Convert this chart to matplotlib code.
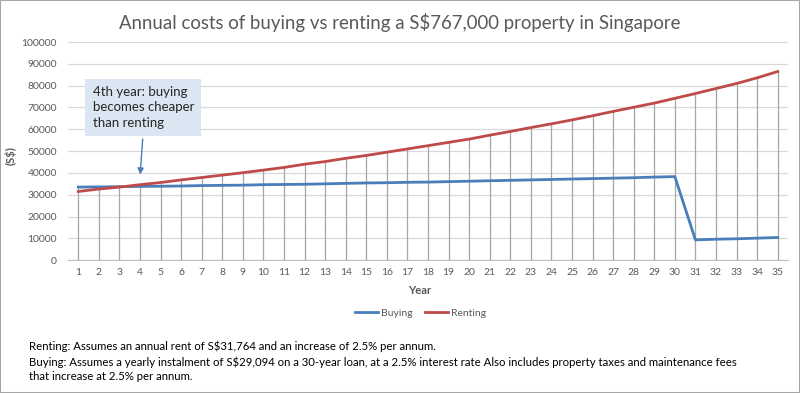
import numpy as np
import matplotlib.pyplot as plt
from matplotlib.patches import Rectangle

plt.rcParams['font.family'] = ['Lato', 'DejaVu Sans']

# values (S$ per year)
years = list(range(1, 36))
buying = [33500, 33600, 33700, 33800, 33900, 34000, 34200, 34300, 34400, 34600,
          34700, 34800, 35000, 35200, 35400, 35500, 35700, 35800, 36000, 36200,
          36400, 36600, 36800, 37000, 37200, 37400, 37600, 37800, 38100, 38300,
          9300, 9600, 9800, 10100, 10400]
renting = [31500, 32600, 33500, 34600, 35600, 36800, 37900, 39000, 40100, 41300,
           42500, 44000, 45200, 46700, 48000, 49500, 51000, 52500, 54000, 55500,
           57300, 59000, 60800, 62500, 64300, 66200, 68200, 70100, 72000, 74200,
           76400, 78700, 81000, 83600, 86500]

title = "Annual costs of buying vs renting a S$767,000 property in Singapore"
note = ("Renting: Assumes an annual rent of S$31,764 and an increase of 2.5% per annum.\n"
        "Buying: Assumes a yearly instalment of S$29,094 on a 30-year loan, at a 2.5% interest rate Also includes property taxes and maintenance fees\n"
        "that increase at 2.5% per annum.")

fig = plt.figure(figsize=(8, 3.93), dpi=100)
ax = fig.add_axes([0.085, 0.338, 0.90, 0.555])

top = np.maximum(buying, renting)
ax.vlines(years, 0, top, color='#a6a6a6', lw=0.9, zorder=1)
ax.plot(years, buying, color='#4a7ebb', lw=2.0, label='Buying', zorder=3)
ax.plot(years, renting, color='#be4b48', lw=2.0, label='Renting', zorder=3)

ax.set_xlim(0.5, 35.5)
ax.set_ylim(0, 100000)
ax.set_yticks(range(0, 100001, 10000))
ax.set_xticks(years)
ax.grid(axis='y', color='#d9d9d9', lw=0.9)
ax.set_axisbelow(True)
for s in ['top', 'right', 'left']:
    ax.spines[s].set_visible(False)
ax.spines['bottom'].set_color('#bfbfbf')
ax.tick_params(axis='both', length=0, labelsize=7.5, colors='#595959')
ax.tick_params(axis='x', pad=6)
ax.tick_params(axis='y', pad=8)

ax.set_ylabel('(S$)', fontsize=8, color='#595959', fontweight='bold')
ax.yaxis.set_label_coords(-0.071, 0.48)
fig.text(0.525, 0.26, 'Year', ha='center', va='center', fontsize=8,
         color='#595959', fontweight='bold')
fig.text(0.5, 0.944, title, ha='center', va='center', fontsize=13.4, color='#595959')

ax.legend(loc='center', bbox_to_anchor=(0.49, -0.243), ncol=2, frameon=False,
          fontsize=7.5, handlelength=2.2, handletextpad=0.3, columnspacing=1.2,
          labelcolor='#595959')

# callout
ax.annotate('4th year: buying\nbecomes cheaper\nthan renting', xy=(4, 38000), xytext=(1.7, 70000),
            fontsize=9.5, color='#262626', ha='left', va='center', linespacing=1.35,
            bbox=dict(boxstyle='square,pad=0.55', fc='#dce6f2', ec='none'),
            arrowprops=dict(arrowstyle='-|>', color='#4a7ebb', lw=1, mutation_scale=9,
                            relpos=(0.5, 0)))

fig.text(0.036, 0.028, note, ha='left', va='bottom', fontsize=8.2, color='#000000',
         linespacing=1.38)

fig.add_artist(Rectangle((0, 0), 1, 1, transform=fig.transFigure, fill=False,
                         ec='#a6a6a6', lw=1.5))

fig.savefig('out.png', dpi=100)
